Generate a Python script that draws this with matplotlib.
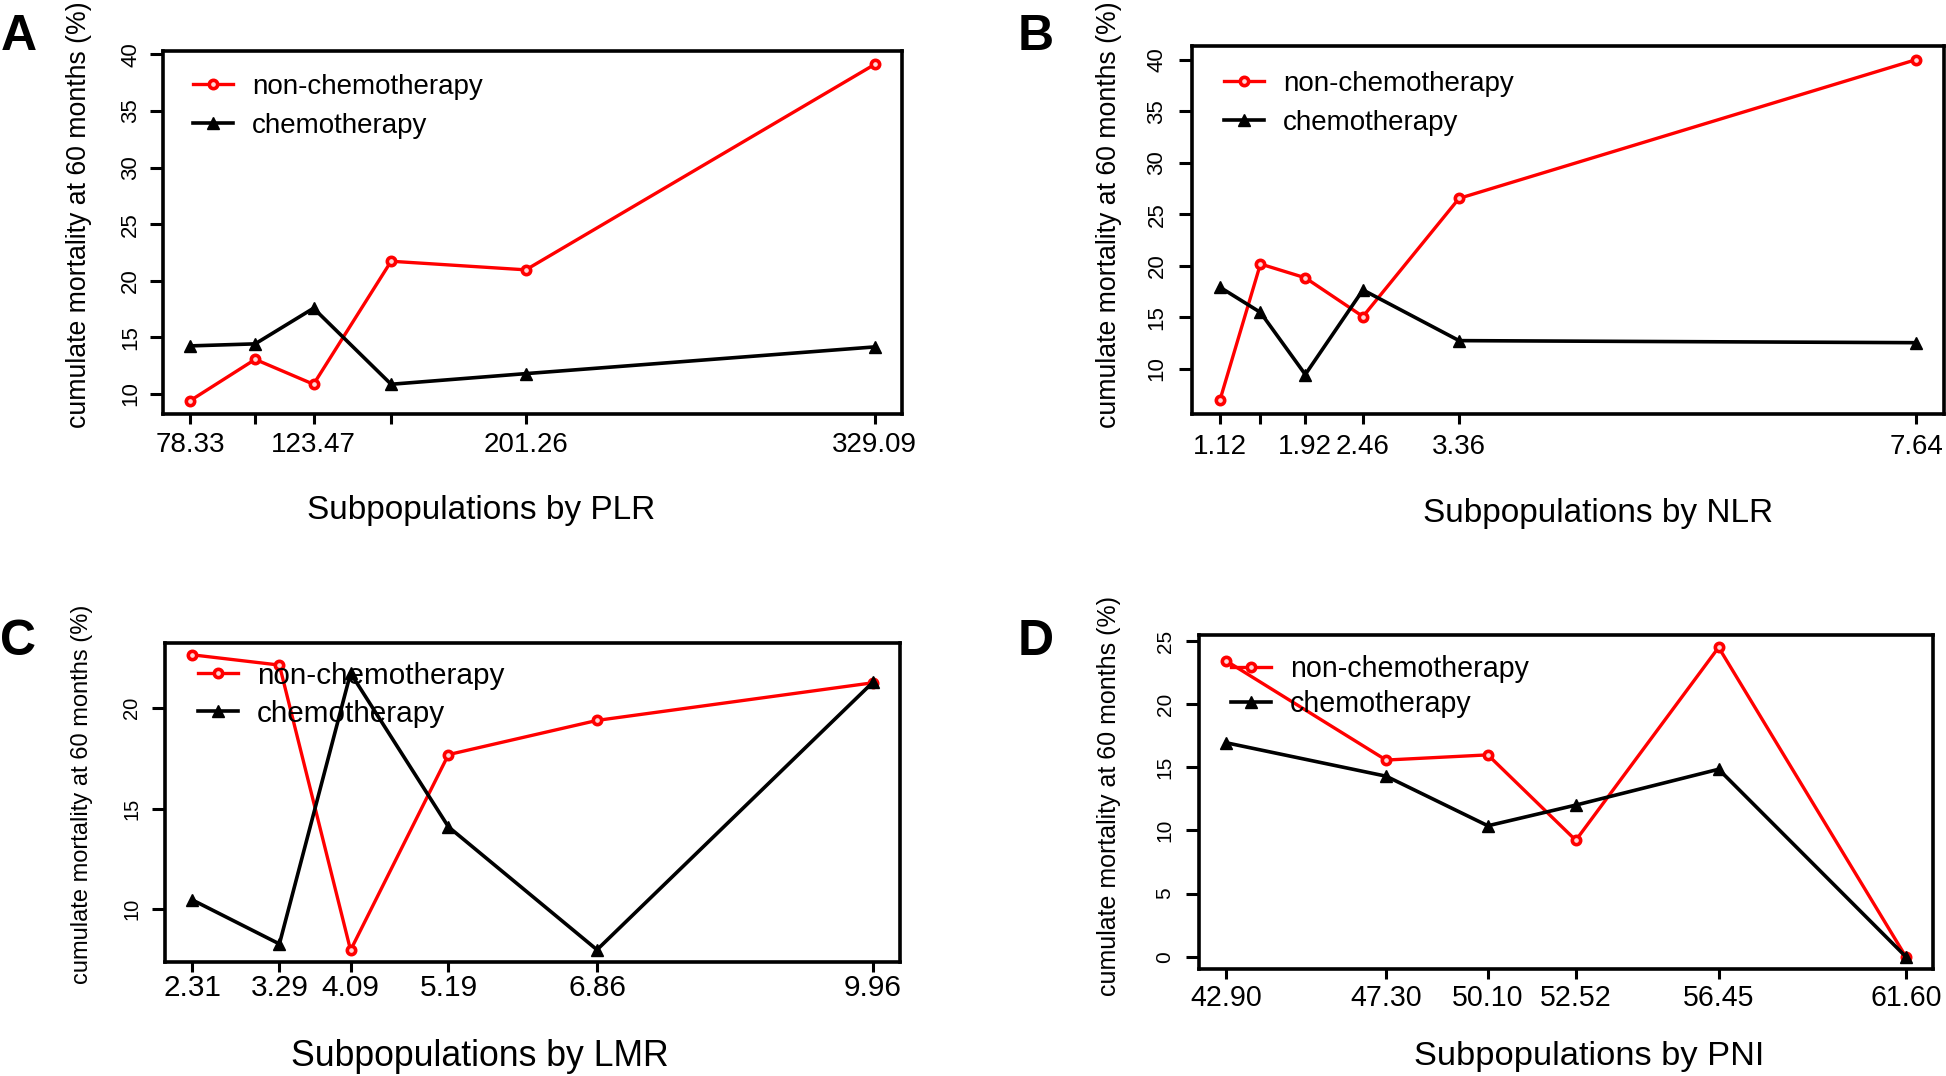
import matplotlib
matplotlib.use("Agg")
import matplotlib.pyplot as plt
from matplotlib.ticker import MultipleLocator

plt.rcParams["font.family"] = ["Liberation Sans", "DejaVu Sans"]

W, H = 1946, 1076

# ---- values: cumulative mortality at 60 months (%)
plr_x = [78.33, 102.08, 123.47, 151.90, 201.26, 329.09]
plr_lab = ["78.33", "", "123.47", "", "201.26", "329.09"]
plr_non = [9.42, 13.06, 10.86, 21.73, 20.97, 39.12]
plr_chemo = [14.25, 14.43, 17.58, 10.86, 11.80, 14.16]

nlr_x = [1.12, 1.50, 1.92, 2.46, 3.36, 7.64]
nlr_lab = ["1.12", "", "1.92", "2.46", "3.36", "7.64"]
nlr_non = [6.92, 20.16, 18.82, 15.06, 26.53, 40.00]
nlr_chemo = [17.91, 15.46, 9.43, 17.64, 12.72, 12.52]

lmr_x = [2.31, 3.29, 4.09, 5.19, 6.86, 9.96]
lmr_lab = ["2.31", "3.29", "4.09", "5.19", "6.86", "9.96"]
lmr_non = [22.64, 22.13, 7.96, 17.68, 19.38, 21.25]
lmr_chemo = [10.46, 8.27, 21.73, 14.09, 7.98, 21.27]

pni_x = [42.90, 47.30, 50.10, 52.52, 56.45, 61.60]
pni_lab = ["42.90", "47.30", "50.10", "52.52", "56.45", "61.60"]
pni_non = [23.44, 15.58, 15.99, 9.22, 24.51, 0.0]
pni_chemo = [16.95, 14.30, 10.37, 12.01, 14.85, 0.0]

ylab = "cumulate mortality at 60 months (%)"

# layout in pixels of the reference: box (l, t, r, b), label centres, legend anchor
panels = [
    dict(letter="A", name="PLR", x=plr_x, lab=plr_lab, non=plr_non, chemo=plr_chemo,
         box=(163, 51, 902, 414), s=1.0, ysz=19.2, ytsz=16, xpad=5.5, ypad=6.4,
         ylc=(79.5, 215), xlc=(481, 510), leg=(193, 87, 40), letter_xy=(18.5, 50)),
    dict(letter="B", name="NLR", x=nlr_x, lab=nlr_lab, non=nlr_non, chemo=nlr_chemo,
         box=(1192, 46, 1944, 414), s=1.0, ysz=19.2, ytsz=16, xpad=7.0, ypad=8.2,
         ylc=(1109, 215), xlc=(1598, 514), leg=(1224, 84, 40), letter_xy=(1036, 50)),
    dict(letter="C", name="LMR", x=lmr_x, lab=lmr_lab, non=lmr_non, chemo=lmr_chemo,
         box=(165, 643, 900, 962), s=1.07, ysz=17, ytsz=14.5, xpad=1.8, ypad=7.6,
         ylc=(82.5, 794), xlc=(480, 1057), leg=(198, 676, 39), letter_xy=(18.5, 655)),
    dict(letter="D", name="PNI", x=pni_x, lab=pni_lab, non=pni_non, chemo=pni_chemo,
         box=(1199, 635, 1933, 969), s=1.03, ysz=18, ytsz=15, xpad=3.9, ypad=8.2,
         ylc=(1109, 796), xlc=(1589.5, 1057), leg=(1231, 669, 35), letter_xy=(1036, 655)),
]

fig = plt.figure(figsize=(W / 100, H / 100), dpi=100, facecolor="white")

for p in panels:
    l, t, r, b = p["box"]
    ax = fig.add_axes([l / W, 1 - b / H, (r - l) / W, (b - t) / H])
    s = p["s"]
    ax.plot(p["x"], p["non"], "-o", color="red", lw=2.4, ms=6.0, mew=2.6,
            mfc="#ffd6d6", mec="red", label="non-chemotherapy", zorder=3)
    ax.plot(p["x"], p["chemo"], "-^", color="black", lw=2.6, ms=9,
            mfc="black", mec="black", label="chemotherapy", zorder=4)
    ax.margins(x=0.04, y=0.04)
    ax.set_xticks(p["x"], p["lab"])
    ax.yaxis.set_major_locator(MultipleLocator(5))
    for sp in ax.spines.values():
        sp.set_linewidth(2.6)
    ax.tick_params(axis="x", direction="out", length=7.2, width=2.2,
                   labelsize=20 * s, pad=p["xpad"])
    ax.tick_params(axis="y", direction="out", length=9.4, width=2.2,
                   labelsize=p["ytsz"], pad=p["ypad"], labelrotation=90)
    for tl in ax.get_yticklabels():
        tl.set_va("center")

    ax.set_xlabel(f"Subpopulations by {p['name']}", fontsize=24 * s, va="center")
    ax.xaxis.set_label_coords(p["xlc"][0] / W, 1 - p["xlc"][1] / H, transform=fig.transFigure)
    ax.set_ylabel(ylab, fontsize=p["ysz"], va="center", rotation_mode="anchor")
    ax.yaxis.set_label_coords(p["ylc"][0] / W, 1 - p["ylc"][1] / H, transform=fig.transFigure)

    fs = 20 * s
    em = fs * 100 / 72
    hx, hy, gap = p["leg"]
    row_h = 0.97 * em
    ax.legend(loc="upper left", bbox_to_anchor=(hx / W, 1 - (hy - row_h / 2) / H),
              bbox_transform=fig.transFigure, frameon=False, fontsize=fs,
              handlelength=40 / em, handletextpad=19 / em, borderpad=0,
              borderaxespad=0, labelspacing=(gap - row_h) / em, numpoints=1)

    lx, ly = p["letter_xy"]
    fig.text(lx / W, 1 - ly / H, p["letter"], fontsize=36, fontweight="bold",
             ha="center", va="baseline")

fig.savefig("out.png", dpi=100, facecolor="white")
